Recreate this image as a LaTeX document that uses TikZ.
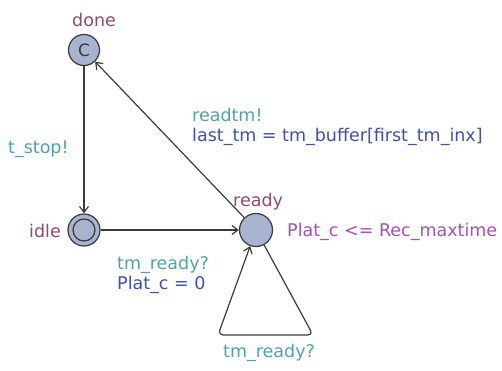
\documentclass[tikz,border=0pt]{standalone}
\usepackage{fontspec}
\setmainfont{DejaVu Sans}
\usetikzlibrary{arrows.meta}
\definecolor{locfill}{HTML}{A7B3CF}
\definecolor{locline}{HTML}{3A3A3A}
\definecolor{locname}{HTML}{8E4A70}
\definecolor{syncol}{HTML}{4FA3A8}
\definecolor{updcol}{HTML}{3F4FB0}
\definecolor{invcol}{HTML}{A452B4}
\tikzset{
  loc/.style={circle, draw=locline, fill=locfill, line width=1.2pt, minimum size=31pt, inner sep=0pt},
  edge/.style={draw=locline, line width=1.2pt, -{Straight Barb[length=6pt,width=9pt]}},
  lbl/.style={font=\fontsize{17.5}{20}\selectfont, inner sep=0pt, anchor=base west},
}
\begin{document}
\begin{tikzpicture}[x=1pt,y=1pt]
\useasboundingbox (0,0) rectangle (502,371);
% locations
\node[loc, text=locline, font=\fontsize{17}{18}\selectfont] (done) at (84,321) {C};
\node[loc, minimum size=32pt] (idle) at (84,141) {};
\draw[locline, line width=1.2pt] (idle.center) circle (11pt);
\node[loc, minimum size=33pt] (ready) at (256,141) {};
% location names
\node[lbl, text=locname] (ndone) at (72,344) {done};
\node[lbl, text=locname] (nidle) at (29,133) {idle};
\node[lbl, text=locname] (nready) at (233,164) {ready};
\node[lbl, text=invcol] (inv) at (287,134) {Plat\_c <= Rec\_maxtime};
% edges
\draw[edge] (done) -- (idle);
\draw[edge] (idle) -- (ready);
\draw[edge] (ready) -- (done);
\coordinate (lr) at (313,36);
\coordinate (ll) at (218,36);
\draw[edge, rounded corners=5pt] (ready) -- (lr) -- (ll) -- (ready);
% edge labels
\node[lbl, text=syncol] (s1) at (8,217) {t\_stop!};
\node[lbl, text=syncol] (s2) at (192,249) {readtm!};
\node[lbl, text=updcol] (u2) at (192,229) {last\_tm = tm\_buffer[first\_tm\_inx]};
\node[lbl, text=syncol] (s3) at (117,101) {tm\_ready?};
\node[lbl, text=updcol] (u3) at (117,81) {Plat\_c = 0};
\node[lbl, text=syncol] (s4) at (223,13) {tm\_ready?};
\end{tikzpicture}
\end{document}
